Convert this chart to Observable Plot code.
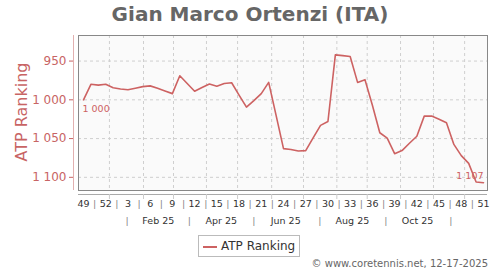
<!DOCTYPE html>
<html>
<head>
<meta charset="utf-8">
<script src="https://cdn.jsdelivr.net/npm/d3@7"></script>
<script src="https://cdn.jsdelivr.net/npm/@observablehq/plot@0.6"></script>
<style>
  html, body { margin: 0; padding: 0; background: #fff; }
  #wrap { position: relative; width: 500px; height: 270px; font-family: "DejaVu Sans", sans-serif; overflow: hidden; }
  #title { position: absolute; left: 0; top: 0; width: 500px; text-align: center; font-size: 20px; font-weight: bold; line-height: 28px; color: #666; }
  #chart { position: absolute; left: 0; top: 28px; }
  #ytitle { position: absolute; left: 21px; top: 112px; transform: translate(-50%, -50%) rotate(-90deg); font-size: 16px; color: #c86464; white-space: nowrap; }
  #legend { position: absolute; left: 198px; top: 235px; width: 100px; height: 20px; border: 1px solid #bbb; background: #fff; font-size: 12px; color: #333; }
  #legend .sw { position: absolute; left: 4px; top: 10px; width: 14px; height: 0; border-top: 2px solid #cd6262; }
  #legend .lb { position: absolute; left: 22px; top: 2px; line-height: 16px; }
  #caption { position: absolute; right: 12px; top: 258px; font-size: 10px; color: #666; white-space: nowrap; }
</style>
</head>
<body>
<div id="wrap">
  <div id="title"></div>
  <div id="chart"></div>
  <div id="ytitle"></div>
  <div id="legend"><span class="sw"></span><span class="lb"></span></div>
  <div id="caption"></div>
</div>
<script>
const titleText = "Gian Marco Ortenzi (ITA)";
const yTitle = "ATP Ranking";
const seriesName = "ATP Ranking";
const captionText = "© www.coretennis.net, 12-17-2025";

// week numbers (Dec 2024 -> Dec 2025), one point per week
const weeks = [49,50,51,52,1,2,3,4,5,6,7,8,9,10,11,12,13,14,15,16,17,18,19,20,21,22,23,24,25,26,27,28,29,30,31,32,33,34,35,36,37,38,39,40,41,42,43,44,45,46,47,48,49,50,51];
const ranking = [1000,980,981,980,984.5,986,987,985,983,982,985,988.5,992,969,979,989,984,979.5,982.5,979,978,994,1009.5,1001,992,977.5,1020,1063,1064,1066,1065.5,1049,1033,1028,942,943,944,977.5,974,1007,1042.5,1049.5,1069.5,1065.5,1056,1047,1021,1021,1025,1029.5,1057.5,1072,1082,1106,1107];

const yTicks = [950, 1000, 1050, 1100];
const weekTickPos = [0,3,6,9,12,15,18,21,24,27,30,33,36,39,42,45,48,51,54];
const monthLabels = ["Feb 25","Apr 25","Jun 25","Aug 25","Oct 25"];
const monthLabelPos = [10.1, 18.6, 27.3, 36.3, 45.1];
const monthSepPos = [5.9, 14.3, 23.0, 31.9, 40.8, 49.6];
const monthGridPos = [3.5, 8.1, 12.15, 16.6, 20.8, 25.4, 29.7, 34.2, 38.3, 42.8, 47.25, 51.45];

const red = "#cd6262";
const fmt = v => d3.format(",")(v).replace(/,/g, " ");

document.getElementById("title").textContent = titleText;
document.getElementById("ytitle").textContent = yTitle;
document.querySelector("#legend .lb").textContent = seriesName;
document.getElementById("caption").textContent = captionText;

const data = ranking.map((r, i) => ({i, week: weeks[i], rank: r}));
const xDomain = [-0.675, 54.54];
const yDomain = [917, 1117];
const weekSepPos = weekTickPos.slice(1).map(p => p - 1.5);

const chart = Plot.plot({
  width: 500,
  height: 204,
  marginTop: 7,
  marginBottom: 42,
  marginLeft: 78,
  marginRight: 13,
  style: {fontFamily: "DejaVu Sans", fontSize: "9.5px", background: "transparent", overflow: "visible"},
  x: {domain: xDomain},
  y: {domain: yDomain, reverse: true},
  marks: [
    Plot.frame({fill: "#fafafa", stroke: null}),
    Plot.gridY(yTicks, {stroke: "#cfcfcf", strokeOpacity: 1, strokeDasharray: "3,3"}),
    Plot.gridX(monthGridPos, {stroke: "#cfcfcf", strokeOpacity: 1, strokeDasharray: "3,3"}),
    Plot.frame({stroke: "#888", fill: null}),
    Plot.ruleX([xDomain[0]], {dx: -5, stroke: "#e2b0b0"}),
    Plot.ruleY([yDomain[1]], {dy: 4, stroke: "#aaa"}),
    Plot.axisY(yTicks, {dx: -5, tickSize: 4, tickPadding: 3, tickFormat: fmt, color: "#c86464", fontSize: 12, label: null}),
    Plot.axisX(monthGridPos, {dy: 4, tickSize: 5, tickFormat: () => "", stroke: "#ccc", label: null}),
    Plot.axisX(weekTickPos, {tickSize: 0, tickPadding: 10, tickFormat: d => String(weeks[d]), fill: "#333", label: null}),
    Plot.axisX(weekSepPos, {tickSize: 0, tickPadding: 10, tickFormat: () => "|", fill: "#888", label: null}),
    Plot.axisX(monthLabelPos, {tickSize: 0, tickPadding: 27, tickFormat: (d, i) => monthLabels[monthLabelPos.indexOf(d)], fill: "#333", label: null}),
    Plot.axisX(monthSepPos, {tickSize: 0, tickPadding: 27, tickFormat: () => "|", fill: "#888", label: null}),
    Plot.line(data, {x: "i", y: "rank", stroke: red, strokeWidth: 1.6}),
    Plot.text([data[0]], {x: "i", y: "rank", text: d => fmt(d.rank), textAnchor: "start", dy: 9, dx: -1, fill: red, fontSize: 9.5}),
    Plot.text([data[data.length - 1]], {x: "i", y: "rank", text: d => fmt(d.rank), textAnchor: "end", dy: -7, dx: 0, fill: red, fontSize: 9.5})
  ]
});
document.getElementById("chart").appendChild(chart);
</script>
</body>
</html>
